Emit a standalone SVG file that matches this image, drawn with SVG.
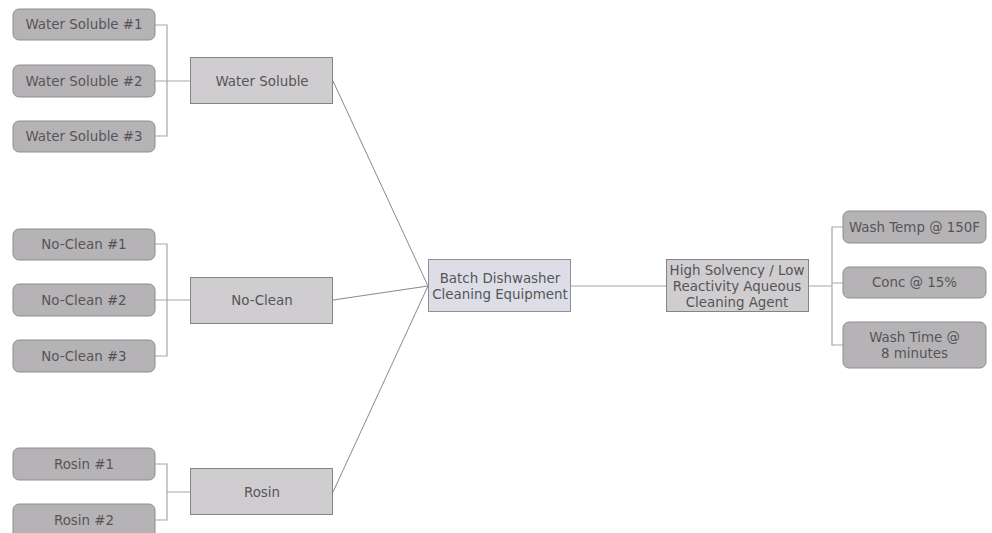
<svg xmlns="http://www.w3.org/2000/svg" width="992" height="533" viewBox="0 0 992 533">
<style>
.leaf{fill:#b5b3b6;stroke:#8e8c8f;stroke-width:1}
.cat{fill:#d0cdd1;stroke:#858386;stroke-width:1}
.hub{fill:#dcdde7;stroke:#8f8f99;stroke-width:1}
text{font-family:"DejaVu Sans",Verdana,sans-serif;font-size:13.4px;fill:#555555;text-anchor:middle}
.br{fill:none;stroke:#a9a7aa;stroke-width:1.2}
.ln{fill:none;stroke:#8a888b;stroke-width:1}
</style>
<rect width="992" height="533" fill="#ffffff"/>
<g id="connectors">
<path class="br" d="M155,25H167V136H155M155,81H191"/>
<path class="br" d="M155,244H167V356H155M155,300H191"/>
<path class="br" d="M155,464H167V520H155M167,492H191"/>
<path class="br" d="M809,286H832M843,227H832V345H843M832,283H843"/>
<path class="br" d="M571,286H666"/>
<path class="ln" d="M333,81L428,286M333,300L428,286M333,492L428,286"/>
</g>
<g id="ws1"><rect class="leaf" x="13" y="9" width="142" height="31" rx="6"/><text x="84" y="29">Water Soluble #1</text></g>
<g id="ws2"><rect class="leaf" x="13" y="65" width="142" height="32" rx="6"/><text x="84" y="86">Water Soluble #2</text></g>
<g id="ws3"><rect class="leaf" x="13" y="121" width="142" height="31" rx="6"/><text x="84" y="141">Water Soluble #3</text></g>
<g id="nc1"><rect class="leaf" x="13" y="229" width="142" height="31" rx="6"/><text x="84" y="249">No-Clean #1</text></g>
<g id="nc2"><rect class="leaf" x="13" y="284" width="142" height="32" rx="6"/><text x="84" y="305">No-Clean #2</text></g>
<g id="nc3"><rect class="leaf" x="13" y="340" width="142" height="32" rx="6"/><text x="84" y="361">No-Clean #3</text></g>
<g id="r1"><rect class="leaf" x="13" y="448" width="142" height="32" rx="6"/><text x="84" y="469">Rosin #1</text></g>
<g id="r2"><rect class="leaf" x="13" y="504" width="142" height="34" rx="6"/><text x="84" y="525">Rosin #2</text></g>
<g id="ws"><rect class="cat" x="190.5" y="57.5" width="142" height="46"/><text x="262" y="86">Water Soluble</text></g>
<g id="nc"><rect class="cat" x="190.5" y="277.5" width="142" height="46"/><text x="262" y="305">No-Clean</text></g>
<g id="rosin"><rect class="cat" x="190.5" y="468.5" width="142" height="46"/><text x="262" y="497">Rosin</text></g>
<g id="batch"><rect class="hub" x="428.5" y="259.5" width="142" height="52"/><text x="500" y="283">Batch Dishwasher</text><text x="500" y="299">Cleaning Equipment</text></g>
<g id="agent"><rect class="cat" x="666.5" y="259.5" width="142" height="52"/><text x="737" y="275">High Solvency / Low</text><text x="737" y="291">Reactivity Aqueous</text><text x="737" y="307">Cleaning Agent</text></g>
<g id="temp"><rect class="leaf" x="843" y="211" width="143" height="32" rx="6"/><text x="914.5" y="232">Wash Temp @ 150F</text></g>
<g id="conc"><rect class="leaf" x="843" y="267" width="143" height="31" rx="6"/><text x="914.5" y="287">Conc @ 15%</text></g>
<g id="time"><rect class="leaf" x="843" y="322" width="143" height="46" rx="6"/><text x="914.5" y="342">Wash Time @</text><text x="914.5" y="358">8 minutes</text></g>
</svg>
